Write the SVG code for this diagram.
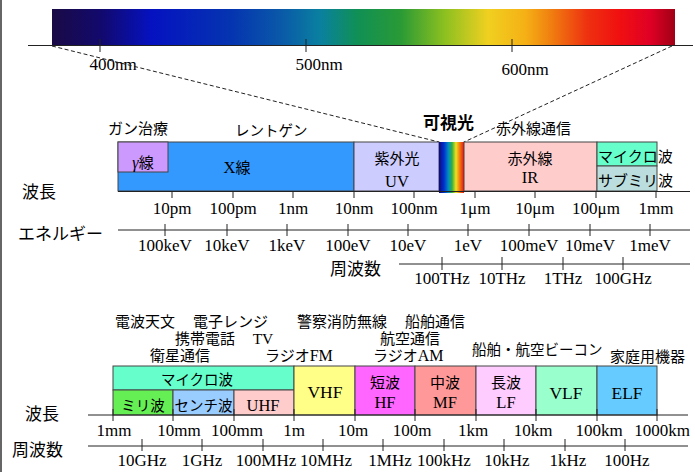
<svg xmlns="http://www.w3.org/2000/svg" width="695" height="472" viewBox="0 0 695 472">
<defs>
<linearGradient id="spec" x1="0" y1="0" x2="1" y2="0">
<stop offset="0" stop-color="#1a0a45"/>
<stop offset="0.08" stop-color="#12096e"/>
<stop offset="0.16" stop-color="#0512c0"/>
<stop offset="0.29" stop-color="#0535b0"/>
<stop offset="0.37" stop-color="#0a5aa8"/>
<stop offset="0.43" stop-color="#0a80a0"/>
<stop offset="0.49" stop-color="#109055"/>
<stop offset="0.56" stop-color="#2a9a35"/>
<stop offset="0.63" stop-color="#8cc020"/>
<stop offset="0.70" stop-color="#f0d020"/>
<stop offset="0.76" stop-color="#f5b015"/>
<stop offset="0.80" stop-color="#f08010"/>
<stop offset="0.86" stop-color="#ee3010"/>
<stop offset="0.91" stop-color="#f01010"/>
<stop offset="0.96" stop-color="#e00025"/>
<stop offset="1" stop-color="#a00015"/>
</linearGradient>
<linearGradient id="vis" x1="0" y1="0" x2="1" y2="0">
<stop offset="0" stop-color="#10087a"/>
<stop offset="0.2" stop-color="#0030d0"/>
<stop offset="0.38" stop-color="#0090c0"/>
<stop offset="0.52" stop-color="#30b040"/>
<stop offset="0.68" stop-color="#f0e020"/>
<stop offset="0.82" stop-color="#f08010"/>
<stop offset="1" stop-color="#f01010"/>
</linearGradient>
<style>
.j{font-family:"Noto Sans CJK JP","Noto Sans",sans-serif;font-size:15px;fill:#000}
.jl{font-family:"Noto Sans CJK JP","Noto Sans",sans-serif;font-size:17px;fill:#000}
.jt{font-family:"Noto Sans CJK JP","Noto Sans",sans-serif;font-size:14.5px;fill:#000}
.s{font-family:"Liberation Serif","Times New Roman",serif;font-size:17px;fill:#000;text-anchor:middle}
.b{font-family:"Liberation Serif","Times New Roman",serif;font-size:16.5px;fill:#000;text-anchor:middle}
.c{text-anchor:middle}
.box{stroke:#444;stroke-width:1}
.ax{stroke:#222;stroke-width:1;fill:none}
.tk{stroke:#222;stroke-width:1}
.dash{stroke:#222;stroke-width:1;stroke-dasharray:4,2.5;fill:none}
</style>
</defs>
<rect x="0" y="0" width="695" height="472" fill="#fff"/>
<line x1="1" y1="0" x2="1" y2="472" stroke="#666" stroke-width="2"/>

<g id="spectrum">
<rect x="52" y="9" width="623" height="37" fill="url(#spec)"/>
<line class="ax" x1="28" y1="45.5" x2="693" y2="45.5"/>
<line class="tk" x1="100" y1="39" x2="100" y2="52"/>
<line class="tk" x1="306" y1="39" x2="306" y2="52"/>
<line class="tk" x1="512" y1="39" x2="512" y2="52"/>
<text class="s" x="113" y="70">400nm</text>
<text class="s" x="319" y="70">500nm</text>
<text class="s" x="525" y="75">600nm</text>
</g>

<g id="connectors">
<line class="dash" x1="52" y1="46" x2="439" y2="142"/>
<line class="dash" x1="672" y1="46" x2="464" y2="142"/>
</g>

<g id="upper-labels">
<text class="j" x="108" y="134">ガン治療</text>
<text class="jt" x="235" y="136">レントゲン</text>
<text class="jl" x="423" y="129" style="font-weight:bold">可視光</text>
<text class="j" x="496" y="134">赤外線通信</text>
</g>

<g id="xray">
<rect class="box" x="118" y="142" width="236" height="49" fill="#3399ff"/>
<text class="j c" x="237" y="173"><tspan font-family="Liberation Serif" font-size="16.5">X</tspan>線</text>
</g>
<g id="gamma">
<rect class="box" x="118" y="142" width="50" height="30" fill="#cc99ff"/>
<text class="j c" x="143" y="168"><tspan font-family="Liberation Serif" font-style="italic" font-size="16">γ</tspan>線</text>
</g>
<g id="uv">
<rect class="box" x="354" y="142" width="85" height="49" fill="#ccccff"/>
<text class="j c" x="397" y="164">紫外光</text>
<text class="b" x="397" y="187">UV</text>
</g>
<g id="visible">
<rect x="439" y="142" width="25" height="51" fill="url(#vis)"/>
</g>
<g id="ir">
<rect class="box" x="464" y="142" width="133" height="49" fill="#ffcccc"/>
<text class="j c" x="530" y="164">赤外線</text>
<text class="b" x="530" y="183">IR</text>
</g>
<g id="microwave-upper">
<rect class="box" x="597" y="142" width="60" height="24" fill="#66ffcc"/>
<rect class="box" x="597" y="166" width="60" height="25" fill="#bbdddd"/>
<text class="j" x="598" y="162">マイクロ波</text>
<text class="j" x="598" y="186">サブミリ波</text>
</g>

<g id="upper-axes">
<text class="jl" x="22" y="198">波長</text>
<line class="ax" x1="118" y1="191.5" x2="690" y2="191.5"/>
<g class="tk">
<line x1="172" y1="191" x2="172" y2="198"/><line x1="233" y1="191" x2="233" y2="198"/>
<line x1="293" y1="191" x2="293" y2="198"/><line x1="354" y1="191" x2="354" y2="198"/>
<line x1="414" y1="191" x2="414" y2="198"/><line x1="475" y1="191" x2="475" y2="198"/>
<line x1="535" y1="191" x2="535" y2="198"/><line x1="596" y1="191" x2="596" y2="198"/>
<line x1="656" y1="191" x2="656" y2="198"/>
</g>
<text class="s" x="172" y="214">10pm</text>
<text class="s" x="233" y="214">100pm</text>
<text class="s" x="293" y="214">1nm</text>
<text class="s" x="354" y="214">10nm</text>
<text class="s" x="414" y="214">100nm</text>
<text class="s" x="475" y="214">1μm</text>
<text class="s" x="535" y="214">10μm</text>
<text class="s" x="596" y="214">100μm</text>
<text class="s" x="656" y="214">1mm</text>

<text class="jl" x="18" y="240">エネルギー</text>
<line class="ax" x1="118" y1="230" x2="690" y2="230"/>
<g class="tk">
<line x1="165" y1="224" x2="165" y2="236"/><line x1="227" y1="224" x2="227" y2="236"/>
<line x1="287" y1="224" x2="287" y2="236"/><line x1="348" y1="224" x2="348" y2="236"/>
<line x1="408" y1="224" x2="408" y2="236"/><line x1="468" y1="224" x2="468" y2="236"/>
<line x1="529" y1="224" x2="529" y2="236"/><line x1="590" y1="224" x2="590" y2="236"/>
<line x1="650" y1="224" x2="650" y2="236"/>
</g>
<text class="s" x="165" y="251">100keV</text>
<text class="s" x="227" y="251">10keV</text>
<text class="s" x="287" y="251">1keV</text>
<text class="s" x="348" y="251">100eV</text>
<text class="s" x="408" y="251">10eV</text>
<text class="s" x="468" y="251">1eV</text>
<text class="s" x="529" y="251">100meV</text>
<text class="s" x="590" y="251">10meV</text>
<text class="s" x="650" y="251">1meV</text>

<text class="jl" x="330" y="275">周波数</text>
<line class="ax" x1="399" y1="264" x2="690" y2="264"/>
<g class="tk">
<line x1="442" y1="257" x2="442" y2="270"/><line x1="502" y1="257" x2="502" y2="270"/>
<line x1="563" y1="257" x2="563" y2="270"/><line x1="623" y1="257" x2="623" y2="270"/>
</g>
<text class="s" x="442" y="284">100THz</text>
<text class="s" x="502" y="284">10THz</text>
<text class="s" x="563" y="284">1THz</text>
<text class="s" x="623" y="284">100GHz</text>
</g>

<g id="lower-labels">
<text class="j" x="115" y="327">電波天文</text>
<text class="j" x="193" y="327">電子レンジ</text>
<text class="j" x="297" y="327">警察消防無線</text>
<text class="j" x="405" y="327">船舶通信</text>
<text class="j" x="175" y="344">携帯電話</text>
<text class="b" x="263" y="344" style="font-size:15.5px">TV</text>
<text class="j" x="380" y="344">航空通信</text>
<text class="j" x="150" y="361">衛星通信</text>
<text class="j" x="265" y="361">ラジオ<tspan font-family="Liberation Serif" font-size="16">FM</tspan></text>
<text class="j" x="373" y="361">ラジオ<tspan font-family="Liberation Serif" font-size="16">AM</tspan></text>
<text class="jt" x="472" y="355">船舶・航空ビーコン</text>
<text class="j" x="610" y="362">家庭用機器</text>
</g>

<g id="microwave-lower">
<rect class="box" x="113" y="366" width="181" height="24" fill="#66ffcc"/>
<text class="jt c" x="197" y="385">マイクロ波</text>
</g>
<g id="mm">
<rect class="box" x="113" y="390" width="60" height="25" fill="#66ee55"/>
<text class="jt c" x="143" y="411">ミリ波</text>
</g>
<g id="cm">
<rect class="box" x="173" y="390" width="61" height="25" fill="#99ccff"/>
<text class="jt c" x="203.5" y="411">センチ波</text>
</g>
<g id="uhf">
<rect class="box" x="234" y="390" width="60" height="25" fill="#ffcccc"/>
<text class="b" x="263" y="411">UHF</text>
</g>
<g id="vhf">
<rect class="box" x="294" y="366" width="61" height="49" fill="#ffff88"/>
<text class="b" x="325" y="398" style="font-size:17.5px">VHF</text>
</g>
<g id="hf">
<rect class="box" x="355" y="366" width="60" height="49" fill="#ff66ff"/>
<text class="j c" x="385" y="388">短波</text>
<text class="b" x="385" y="408">HF</text>
</g>
<g id="mf">
<rect class="box" x="415" y="366" width="61" height="49" fill="#ff9999"/>
<text class="j c" x="445" y="388">中波</text>
<text class="b" x="445" y="408">MF</text>
</g>
<g id="lf">
<rect class="box" x="476" y="366" width="60" height="49" fill="#ffccff"/>
<text class="j c" x="506" y="388">長波</text>
<text class="b" x="506" y="408">LF</text>
</g>
<g id="vlf">
<rect class="box" x="536" y="366" width="61" height="49" fill="#99ffcc"/>
<text class="b" x="566" y="399" style="font-size:17.5px">VLF</text>
</g>
<g id="elf">
<rect class="box" x="597" y="366" width="60" height="49" fill="#66ccff"/>
<text class="b" x="627" y="399" style="font-size:17.5px">ELF</text>
</g>

<g id="lower-axes">
<text class="jl" x="25" y="420">波長</text>
<line class="ax" x1="88" y1="415" x2="688" y2="415"/>
<g class="tk">
<line x1="113" y1="409" x2="113" y2="421"/><line x1="173" y1="409" x2="173" y2="421"/>
<line x1="234" y1="409" x2="234" y2="421"/><line x1="294" y1="409" x2="294" y2="421"/>
<line x1="355" y1="409" x2="355" y2="421"/><line x1="415" y1="409" x2="415" y2="421"/>
<line x1="476" y1="409" x2="476" y2="421"/><line x1="536" y1="409" x2="536" y2="421"/>
<line x1="597" y1="409" x2="597" y2="421"/><line x1="657" y1="409" x2="657" y2="421"/>
</g>
<text class="s" x="114" y="436">1mm</text>
<text class="s" x="179" y="436">10mm</text>
<text class="s" x="237" y="436">100mm</text>
<text class="s" x="294" y="436">1m</text>
<text class="s" x="353" y="436">10m</text>
<text class="s" x="412" y="436">100m</text>
<text class="s" x="473" y="436">1km</text>
<text class="s" x="533" y="436">10km</text>
<text class="s" x="599" y="436">100km</text>
<text class="s" x="662" y="436">1000km</text>

<text class="jl" x="12" y="456">周波数</text>
<line class="ax" x1="88" y1="446" x2="688" y2="446"/>
<g class="tk">
<line x1="142" y1="439" x2="142" y2="451"/><line x1="202" y1="439" x2="202" y2="451"/>
<line x1="263" y1="439" x2="263" y2="451"/><line x1="323" y1="439" x2="323" y2="451"/>
<line x1="383" y1="439" x2="383" y2="451"/><line x1="444" y1="439" x2="444" y2="451"/>
<line x1="504" y1="439" x2="504" y2="451"/><line x1="565" y1="439" x2="565" y2="451"/>
<line x1="625" y1="439" x2="625" y2="451"/>
</g>
<text class="s" x="142" y="466">10GHz</text>
<text class="s" x="202" y="466">1GHz</text>
<text class="s" x="266" y="466">100MHz</text>
<text class="s" x="326" y="466">10MHz</text>
<text class="s" x="390" y="466">1MHz</text>
<text class="s" x="444" y="466">100kHz</text>
<text class="s" x="507" y="466">10kHz</text>
<text class="s" x="568" y="466">1kHz</text>
<text class="s" x="627" y="466">100Hz</text>
</g>
</svg>
